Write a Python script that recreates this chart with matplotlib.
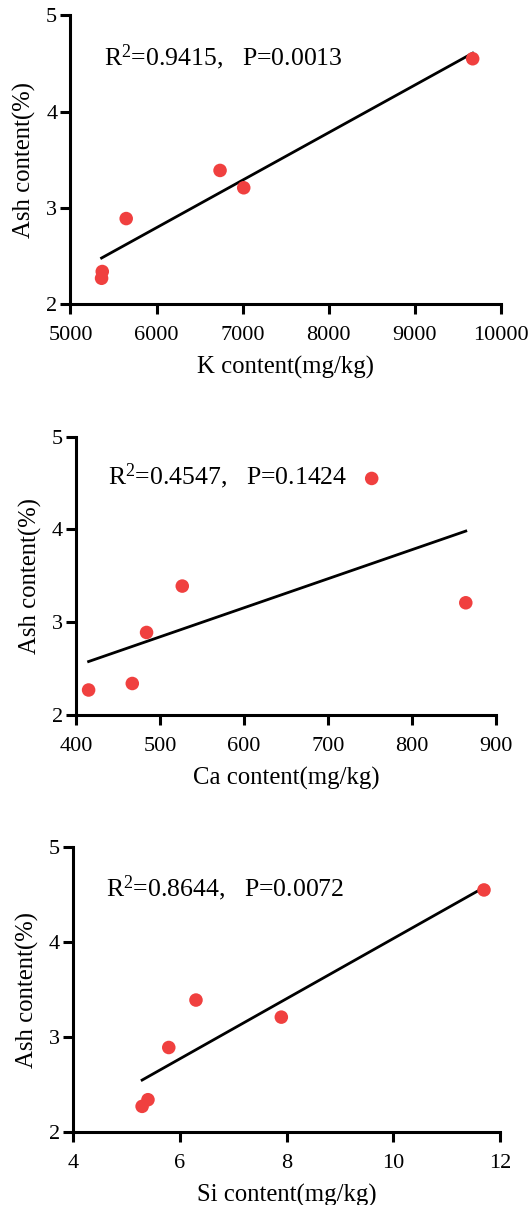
import numpy as np
import matplotlib
matplotlib.use("Agg")
import matplotlib.pyplot as plt

plt.rcParams["font.family"] = ["Liberation Serif", "DejaVu Serif"]
plt.rcParams["mathtext.fontset"] = "custom"
plt.rcParams["mathtext.rm"] = "Liberation Serif"
plt.rcParams["mathtext.it"] = "Liberation Serif:italic"

# ash content (%) of the six samples
ash = [2.27, 2.34, 2.89, 3.39, 3.21, 4.55]

# element contents (mg/kg), same sample order
k_content = [5361, 5369, 5647, 6737, 7012, 9671]
ca_content = [415, 467, 484, 526.5, 864, 752]
si_content = [5.29, 5.40, 5.79, 6.30, 7.90, 11.70]

stats = ["R$^{2}$=0.9415,   P=0.0013",
         "R$^{2}$=0.4547,   P=0.1424",
         "R$^{2}$=0.8644,   P=0.0072"]
xlabels = ["K content(mg/kg)", "Ca content(mg/kg)", "Si content(mg/kg)"]
xlims = [(5000, 10000), (400, 900), (4, 12)]
xticks = [np.arange(5000, 10001, 1000), np.arange(400, 901, 100), np.arange(4, 13, 2)]

# axes boxes in figure fractions [left, bottom, width, height]
boxes = [[0.1330, 0.7475, 0.8123, 0.2397],
         [0.1434, 0.4066, 0.7925, 0.2310],
         [0.1383, 0.0606, 0.8051, 0.2363]]

fig = plt.figure(figsize=(5.3, 12.05), dpi=100)

for xs, txt, xl, lim, tk, box in zip([k_content, ca_content, si_content],
                                     stats, xlabels, xlims, xticks, boxes):
    ax = fig.add_axes(box)
    x = np.asarray(xs, float)
    y = np.asarray(ash, float)
    slope, icpt = np.polyfit(x, y, 1)
    xf = np.array([x.min(), x.max()])
    ax.plot(xf, slope * xf + icpt, color="black", lw=2.0, zorder=2)
    ax.scatter(x, y, s=95, color="#F0403F", edgecolors="none", zorder=3,
               clip_on=False)

    ax.set_xlim(*lim)
    ax.set_ylim(2, 5)
    ax.set_xticks(tk)
    ax.set_yticks([2, 3, 4, 5])
    for s in ("top", "right"):
        ax.spines[s].set_visible(False)
    for s in ("left", "bottom"):
        ax.spines[s].set_linewidth(2.2)
    ax.tick_params(direction="out", length=7.5, width=2.2, labelsize=16, pad=2)
    ax.tick_params(axis="x", pad=8)
    ax.set_xlabel(xl, fontsize=17.8, labelpad=8)
    ax.set_ylabel("Ash content(%)", fontsize=17.8, labelpad=7)
    ax.text(0.077, 0.828, txt, transform=ax.transAxes, fontsize=18.5,
            ha="left", va="baseline")

fig.savefig("out.png", dpi=100)
